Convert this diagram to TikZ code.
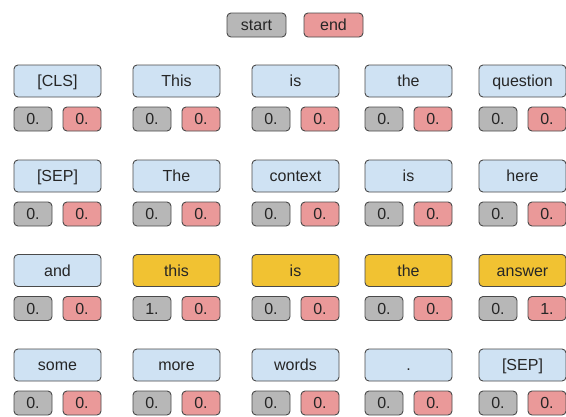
\documentclass[tikz,border=0pt]{standalone}
\usepackage{fontspec}
\setmainfont{Liberation Sans}
\definecolor{tokblue}{HTML}{CFE2F3}
\definecolor{ansyellow}{HTML}{F1C232}
\definecolor{startgray}{HTML}{B7B7B7}
\definecolor{endred}{HTML}{EA9999}
\definecolor{bordercol}{HTML}{4A4A4A}
\newcommand{\qacell}[7]{%
  \node[#5] (t#1) at (#2+43.5,#3+16) {#4};
  \node[sval] (s#1) at (#2+19,#3+54) {#6};
  \node[evalbox] (e#1) at (#2+68,#3+54) {#7};}
\begin{document}
\begin{tikzpicture}[x=1pt,y=-1pt,
  box/.style={draw=bordercol, line width=0.9pt, rounded corners=4pt, inner sep=0pt,
    font=\fontsize{16}{19}\selectfont, text=black!85, text height=12pt, text depth=1pt},
  tok/.style={box, fill=tokblue, minimum width=87pt, minimum height=32pt},
  ans/.style={tok, fill=ansyellow},
  sval/.style={box, fill=startgray, minimum width=38pt, minimum height=24pt},
  evalbox/.style={box, fill=endred, minimum width=38pt, minimum height=24pt}]
\useasboundingbox (0,0) rectangle (566,416);
\node[sval, minimum width=59pt] (start) at (256.5,25) {start};
\node[evalbox, minimum width=59pt] (end) at (333.5,25) {end};
% row 1
\qacell{11}{14}{65}{[CLS]}{tok}{0.}{0.}
\qacell{12}{133}{65}{This}{tok}{0.}{0.}
\qacell{13}{252}{65}{is}{tok}{0.}{0.}
\qacell{14}{365}{65}{the}{tok}{0.}{0.}
\qacell{15}{479}{65}{question}{tok}{0.}{0.}
% row 2
\qacell{21}{14}{160}{[SEP]}{tok}{0.}{0.}
\qacell{22}{133}{160}{The}{tok}{0.}{0.}
\qacell{23}{252}{160}{context}{tok}{0.}{0.}
\qacell{24}{365}{160}{is}{tok}{0.}{0.}
\qacell{25}{479}{160}{here}{tok}{0.}{0.}
% row 3
\qacell{31}{14}{254.5}{and}{tok}{0.}{0.}
\qacell{32}{133}{254.5}{this}{ans}{1.}{0.}
\qacell{33}{252}{254.5}{is}{ans}{0.}{0.}
\qacell{34}{365}{254.5}{the}{ans}{0.}{0.}
\qacell{35}{479}{254.5}{answer}{ans}{0.}{1.}
% row 4
\qacell{41}{14}{349}{some}{tok}{0.}{0.}
\qacell{42}{133}{349}{more}{tok}{0.}{0.}
\qacell{43}{252}{349}{words}{tok}{0.}{0.}
\qacell{44}{365}{349}{.}{tok}{0.}{0.}
\qacell{45}{479}{349}{[SEP]}{tok}{0.}{0.}
\end{tikzpicture}
\end{document}
